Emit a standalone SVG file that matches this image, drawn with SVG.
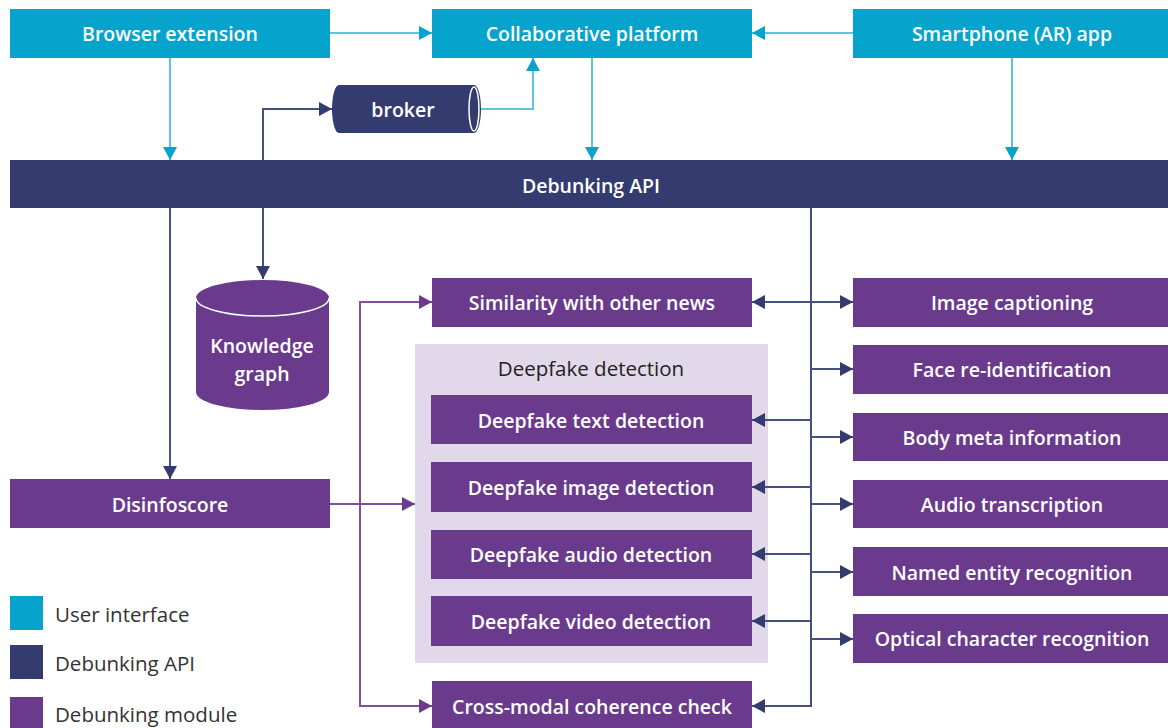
<svg xmlns="http://www.w3.org/2000/svg" width="1168" height="728" viewBox="0 0 1168 728">
  <style>
    .ui { fill: #06a4cd; }
    .api { fill: #333b6f; }
    .mod { fill: #6a3a8d; }
    .grp { fill: #e1d9ea; }
    .lbl { font-family: "Open Sans", "Liberation Sans", sans-serif; font-size: 19.5px; font-weight: 600; fill: #ffffff; text-anchor: middle; dominant-baseline: central; }
    .dark { fill: #222222; font-size: 20.5px; font-weight: 400; }
    .leg { font-family: "Open Sans", "Liberation Sans", sans-serif; font-size: 20.5px; fill: #333333; dominant-baseline: central; }
    .c-ui { fill: none; stroke: #5cc4e2; stroke-width: 2; }
    .c-api { fill: none; stroke: #46517f; stroke-width: 2; }
    .c-mod { fill: none; stroke: #7f50a0; stroke-width: 2; }
  </style>
  <defs>
    <marker id="ah-ui" markerUnits="userSpaceOnUse" markerWidth="13" markerHeight="14" refX="13" refY="7" orient="auto">
      <path d="M0,0 L13,7 L0,14 z" fill="#06a4cd"/>
    </marker>
    <marker id="ah-api" markerUnits="userSpaceOnUse" markerWidth="13" markerHeight="14" refX="13" refY="7" orient="auto">
      <path d="M0,0 L13,7 L0,14 z" fill="#333b6f"/>
    </marker>
    <marker id="ah-mod" markerUnits="userSpaceOnUse" markerWidth="13" markerHeight="14" refX="13" refY="7" orient="auto">
      <path d="M0,0 L13,7 L0,14 z" fill="#6a3a8d"/>
    </marker>
  </defs>

  <!-- container for the deepfake detectors -->
  <g id="deepfake-group">
    <rect class="grp" x="415" y="344" width="353" height="319"/>
    <text class="lbl dark" x="591" y="368">Deepfake detection</text>
  </g>

  <!-- connectors -->
  <g id="connectors">
    <!-- user interface links -->
    <path class="c-ui" d="M330,33 H432" marker-end="url(#ah-ui)"/>
    <path class="c-ui" d="M853,33 H752" marker-end="url(#ah-ui)"/>
    <path class="c-ui" d="M170,58 V160" marker-end="url(#ah-ui)"/>
    <path class="c-ui" d="M592,58 V160" marker-end="url(#ah-ui)"/>
    <path class="c-ui" d="M1012,58 V160" marker-end="url(#ah-ui)"/>
    <path class="c-ui" d="M480,109 H533 V58" marker-end="url(#ah-ui)"/>
    <!-- API links -->
    <path class="c-api" d="M263,160 V109 H332" marker-end="url(#ah-api)"/>
    <path class="c-api" d="M263,208 V279" marker-end="url(#ah-api)"/>
    <path class="c-api" d="M170,208 V479" marker-end="url(#ah-api)"/>
    <path class="c-api" d="M811,208 V706"/>
    <path class="c-api" d="M811,302 H752" marker-end="url(#ah-api)"/>
    <path class="c-api" d="M811,420 H752" marker-end="url(#ah-api)"/>
    <path class="c-api" d="M811,487 H752" marker-end="url(#ah-api)"/>
    <path class="c-api" d="M811,554 H752" marker-end="url(#ah-api)"/>
    <path class="c-api" d="M811,621 H752" marker-end="url(#ah-api)"/>
    <path class="c-api" d="M812,706 H752" marker-end="url(#ah-api)"/>
    <path class="c-api" d="M811,302 H853" marker-end="url(#ah-api)"/>
    <path class="c-api" d="M811,369 H853" marker-end="url(#ah-api)"/>
    <path class="c-api" d="M811,437 H853" marker-end="url(#ah-api)"/>
    <path class="c-api" d="M811,504 H853" marker-end="url(#ah-api)"/>
    <path class="c-api" d="M811,572 H853" marker-end="url(#ah-api)"/>
    <path class="c-api" d="M811,639 H853" marker-end="url(#ah-api)"/>
    <!-- module links -->
    <path class="c-mod" d="M330,504 H415" marker-end="url(#ah-mod)"/>
    <path class="c-mod" d="M360,504 V302 H432" marker-end="url(#ah-mod)"/>
    <path class="c-mod" d="M360,504 V706 H432" marker-end="url(#ah-mod)"/>
  </g>

  <!-- user interface nodes -->
  <g id="browser-extension">
    <rect class="ui" x="10" y="9" width="320" height="49"/>
    <text class="lbl" x="170" y="33">Browser extension</text>
  </g>
  <g id="collaborative-platform">
    <rect class="ui" x="432" y="9" width="320" height="49"/>
    <text class="lbl" x="592" y="33">Collaborative platform</text>
  </g>
  <g id="smartphone-app">
    <rect class="ui" x="853" y="9" width="315" height="49"/>
    <text class="lbl" x="1012" y="33">Smartphone (AR) app</text>
  </g>

  <!-- message broker (horizontal cylinder) -->
  <g id="broker">
    <path class="api" d="M339,85 H474 A7,24 0 0 1 474,133 H339 A7,24 0 0 1 339,85 z"/>
    <ellipse cx="474" cy="109" rx="5" ry="22" fill="none" stroke="#ffffff" stroke-width="1.5"/>
    <text class="lbl" x="403" y="109">broker</text>
  </g>

  <!-- API bar -->
  <g id="debunking-api">
    <rect class="api" x="10" y="160" width="1158" height="48"/>
    <text class="lbl" x="591" y="185">Debunking API</text>
  </g>

  <!-- knowledge graph store -->
  <g id="knowledge-graph">
    <path class="mod" d="M196,298 A66.5,18 0 0 1 329,298 V392 A66.5,18 0 0 1 196,392 z"/>
    <path d="M196,298 A66.5,18 0 0 0 329,298" fill="none" stroke="#ffffff" stroke-width="1.5"/>
    <text class="lbl" x="262" y="345">Knowledge</text>
    <text class="lbl" x="262" y="373">graph</text>
  </g>

  <g id="disinfoscore">
    <rect class="mod" x="10" y="479" width="320" height="49"/>
    <text class="lbl" x="170" y="504">Disinfoscore</text>
  </g>

  <!-- central modules -->
  <g id="similarity">
    <rect class="mod" x="432" y="278" width="320" height="49"/>
    <text class="lbl" x="592" y="302">Similarity with other news</text>
  </g>
  <g id="deepfake-text">
    <rect class="mod" x="431" y="395" width="321" height="49"/>
    <text class="lbl" x="591" y="420">Deepfake text detection</text>
  </g>
  <g id="deepfake-image">
    <rect class="mod" x="431" y="462" width="321" height="50"/>
    <text class="lbl" x="591" y="487">Deepfake image detection</text>
  </g>
  <g id="deepfake-audio">
    <rect class="mod" x="431" y="530" width="321" height="49"/>
    <text class="lbl" x="591" y="554">Deepfake audio detection</text>
  </g>
  <g id="deepfake-video">
    <rect class="mod" x="431" y="596" width="321" height="50"/>
    <text class="lbl" x="591" y="621">Deepfake video detection</text>
  </g>
  <g id="cross-modal">
    <rect class="mod" x="432" y="681" width="320" height="50"/>
    <text class="lbl" x="592" y="706">Cross-modal coherence check</text>
  </g>

  <!-- analysis modules on the right -->
  <g id="image-captioning">
    <rect class="mod" x="853" y="278" width="315" height="49"/>
    <text class="lbl" x="1012" y="302">Image captioning</text>
  </g>
  <g id="face-reid">
    <rect class="mod" x="853" y="345" width="315" height="49"/>
    <text class="lbl" x="1012" y="369">Face re-identification</text>
  </g>
  <g id="body-meta">
    <rect class="mod" x="853" y="413" width="315" height="48"/>
    <text class="lbl" x="1012" y="437">Body meta information</text>
  </g>
  <g id="audio-transcription">
    <rect class="mod" x="853" y="480" width="315" height="48"/>
    <text class="lbl" x="1012" y="504">Audio transcription</text>
  </g>
  <g id="ner">
    <rect class="mod" x="853" y="547" width="315" height="49"/>
    <text class="lbl" x="1012" y="572">Named entity recognition</text>
  </g>
  <g id="ocr">
    <rect class="mod" x="853" y="614" width="315" height="49"/>
    <text class="lbl" x="1012" y="638">Optical character recognition</text>
  </g>

  <!-- legend -->
  <g id="legend">
    <rect class="ui" x="10" y="596" width="33" height="34"/>
    <text class="leg" x="55" y="614">User interface</text>
    <rect class="api" x="10" y="645" width="33" height="34"/>
    <text class="leg" x="55" y="663">Debunking API</text>
    <rect class="mod" x="10" y="697" width="33" height="34"/>
    <text class="leg" x="55" y="714">Debunking module</text>
  </g>
</svg>
